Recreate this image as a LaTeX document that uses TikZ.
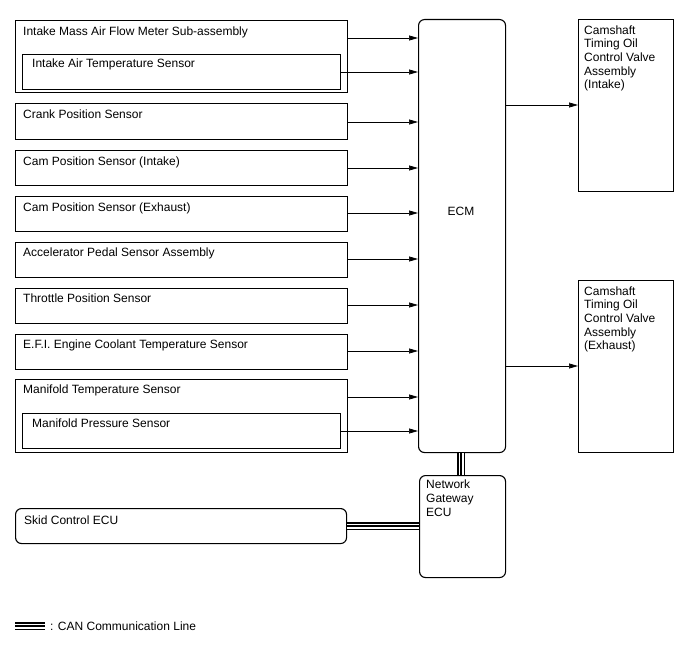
\documentclass[tikz,border=0pt]{standalone}
\usepackage{fontspec}
\setmainfont{Liberation Sans}
\usetikzlibrary{calc,arrows.meta}
\begin{document}
\begin{tikzpicture}[x=1pt,y=-1pt,
  font=\fontsize{12}{13.6}\selectfont,
  box/.style={draw, line width=1.1pt, rectangle, anchor=north west, inner sep=0pt, minimum width=#1},
  box/.default=332pt,
  rbox/.style={box=#1, rounded corners=6pt},
  txt/.style={anchor=base west, inner sep=0pt},
  mtxt/.style={anchor=north west, inner sep=0pt, align=left},
  arr/.style={line width=0.7pt, -{Triangle[length=9pt,width=5pt]}},
  canout/.style={line width=8pt},
  canmid/.style={line width=5pt, white},
  canin/.style={line width=2pt}
]
\useasboundingbox (0,0) rectangle (688,658);

% left boxes
\node[box, minimum height=72pt] (imaf) at (15,20) {};
\node[txt] (timaf) at ($(imaf.north west)+(8,15.5)$) {Intake Mass Air Flow Meter Sub-assembly};
\node[box=318pt, minimum height=35pt] (iat) at (22,54) {};
\node[txt] (tiat) at ($(iat.north west)+(10,13.5)$) {Intake Air Temperature Sensor};

\node[box, minimum height=36pt] (crank) at (15,103) {};
\node[txt] (tcrank) at ($(crank.north west)+(8,15.5)$) {Crank Position Sensor};

\node[box, minimum height=35pt] (cami) at (15,150) {};
\node[txt] (tcami) at ($(cami.north west)+(8,15)$) {Cam Position Sensor (Intake)};

\node[box, minimum height=35pt] (came) at (15,196) {};
\node[txt] (tcame) at ($(came.north west)+(8,15)$) {Cam Position Sensor (Exhaust)};

\node[box, minimum height=35pt] (accel) at (15,242) {};
\node[txt] (taccel) at ($(accel.north west)+(8,14)$) {Accelerator Pedal Sensor Assembly};

\node[box, minimum height=35pt] (thr) at (15,288) {};
\node[txt] (tthr) at ($(thr.north west)+(8,14)$) {Throttle Position Sensor};

\node[box, minimum height=35pt] (efi) at (15,334) {};
\node[txt] (tefi) at ($(efi.north west)+(8,14)$) {E.F.I. Engine Coolant Temperature Sensor};

\node[box, minimum height=73pt] (mani) at (15,379) {};
\node[txt] (tmani) at ($(mani.north west)+(8,14.5)$) {Manifold Temperature Sensor};
\node[box=318pt, minimum height=35pt] (map) at (22,413) {};
\node[txt] (tmap) at ($(map.north west)+(10,14.5)$) {Manifold Pressure Sensor};

\node[rbox=331pt, minimum height=35pt] (skid) at (15,508) {};
\node[txt] (tskid) at ($(skid.north west)+(9,16)$) {Skid Control ECU};

% ECM and gateway
\node[rbox=87pt, minimum height=433pt] (ecm) at (418,19) {};
\node[inner sep=0pt] (tecm) at (461,211) {ECM};

\node[rbox=86pt, minimum height=102pt] (gw) at (419,475) {};
\node[mtxt] (tgw) at ($(gw.north west)+(7,5)$) {Network\\Gateway\\ECU};

% outputs
\node[box=95pt, minimum height=172pt] (ocvi) at (578,19) {};
\node[mtxt] (tocvi) at ($(ocvi.north west)+(6,6.5)$) {Camshaft\\Timing Oil\\Control Valve\\Assembly\\(Intake)};
\node[box=95pt, minimum height=172pt] (ocve) at (578,280) {};
\node[mtxt] (tocve) at ($(ocve.north west)+(6,6.5)$) {Camshaft\\Timing Oil\\Control Valve\\Assembly\\(Exhaust)};

% arrows
\draw[arr] (imaf.east |- 0,38) -- (ecm.west |- 0,38);
\draw[arr] (iat.east |- 0,72) -- (ecm.west |- 0,72);
\draw[arr] (crank.east |- 0,122) -- (ecm.west |- 0,122);
\draw[arr] (cami.east |- 0,168) -- (ecm.west |- 0,168);
\draw[arr] (came.east |- 0,213) -- (ecm.west |- 0,213);
\draw[arr] (accel.east |- 0,259) -- (ecm.west |- 0,259);
\draw[arr] (thr.east |- 0,305) -- (ecm.west |- 0,305);
\draw[arr] (efi.east |- 0,351) -- (ecm.west |- 0,351);
\draw[arr] (mani.east |- 0,397) -- (ecm.west |- 0,397);
\draw[arr] (map.east |- 0,431) -- (ecm.west |- 0,431);
\draw[arr] (ecm.east |- 0,105) -- (ocvi.west |- 0,105);
\draw[arr] (ecm.east |- 0,366) -- (ocve.west |- 0,366);

% CAN lines
\coordinate (c1) at (461,0);
\foreach \s in {canout,canmid,canin}{
  \draw[\s] (ecm.south -| c1) -- (gw.north -| c1);
  \draw[\s] (skid.east |- 0,526) -- (gw.west |- 0,526);
}
\coordinate (l1) at (15,626);
\coordinate (l2) at (45,626);
\foreach \s in {canout,canmid,canin}{
  \draw[\s] (l1) -- (l2);
}
\node[txt] (tleg) at (50,630) {: CAN Communication Line};
\end{tikzpicture}
\end{document}
